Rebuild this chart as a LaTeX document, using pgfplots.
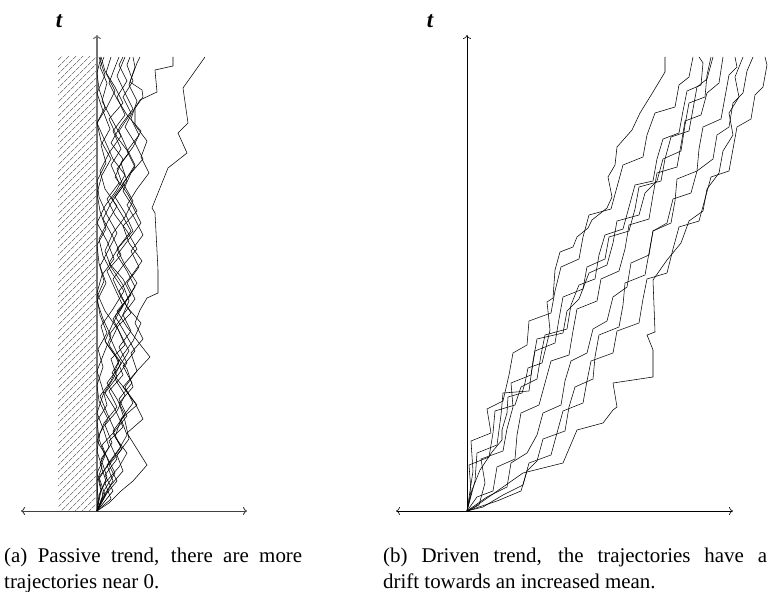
\documentclass[border=0pt]{standalone}
\usepackage{pgfplots}
\pgfplotsset{compat=1.18}
\usepackage{fontspec}
\setmainfont{Liberation Serif}
\usetikzlibrary{patterns.meta,arrows.meta}
\begin{document}
\begin{tikzpicture}
\path[use as bounding box] (0,0) rectangle (771bp,592bp);
\pgfplotsset{
  walkstyle/.style={black, line width=0.55pt, mark=none, line join=miter},
}
% ---------------- left panel: passive trend ----------------
\begin{axis}[
  at={(21bp,81bp)}, anchor=south west,
  x=1bp, y=1bp,
  xmin=-76, xmax=150, ymin=0, ymax=476,
  axis lines=middle, enlargelimits=false, clip=false,
  xtick=\empty, ytick=\empty,
  x axis line style={{To[length=4bp,width=8bp]}-{To[length=4bp,width=8bp]}, draw=black!75, line width=0.9pt},
  y axis line style={-{To[length=4bp,width=8bp]}, draw=black!55, line width=1.1pt},
]
\fill[pattern={Lines[angle=45,distance=5.2bp,line width=0.6bp]}, pattern color=black!50] (axis cs:-39,0) rectangle (axis cs:0,454);
\addplot[walkstyle] coordinates {(0,0)(6,15)(2,32)(12,48)(5,66)(18,80)(10,98)(3,115)(14,130)(22,150)(9,168)(4,185)(16,202)(27,220)(15,238)(6,255)(2,272)(11,290)(20,305)(8,322)(3,340)(12,358)(24,375)(14,393)(5,410)(10,428)(3,444)(7,454)};
\addplot[walkstyle] coordinates {(0,0)(10,18)(20,30)(12,46)(25,62)(16,78)(30,95)(22,112)(35,128)(26,145)(38,160)(28,178)(18,195)(30,212)(40,228)(28,246)(20,262)(34,280)(25,296)(15,312)(28,330)(38,346)(30,362)(22,380)(34,398)(26,414)(36,430)(30,446)(33,454)};
\addplot[walkstyle] coordinates {(0,0)(4,20)(0,38)(8,55)(2,72)(0,90)(10,106)(5,124)(0,140)(7,158)(14,175)(6,192)(0,210)(9,228)(3,245)(12,262)(20,278)(10,296)(2,314)(0,330)(9,348)(4,366)(13,382)(6,400)(0,418)(8,436)(2,454)};
\addplot[walkstyle] coordinates {(0,0)(14,12)(8,28)(22,44)(30,58)(18,74)(24,92)(40,106)(28,122)(15,138)(25,155)(36,170)(44,188)(30,204)(22,220)(35,236)(45,250)(32,268)(26,285)(40,300)(30,318)(18,334)(26,352)(14,368)(24,386)(36,402)(28,418)(20,435)(28,454)};
\addplot[walkstyle] coordinates {(0,0)(2,16)(9,30)(3,48)(12,64)(7,80)(0,98)(6,116)(16,132)(24,148)(12,166)(20,183)(8,200)(0,218)(5,236)(17,252)(10,270)(0,288)(8,305)(19,320)(28,336)(16,352)(8,370)(0,388)(10,404)(18,420)(9,438)(14,454)};
\addplot[walkstyle] coordinates {(0,0)(8,22)(18,38)(10,54)(0,70)(7,88)(20,104)(12,120)(26,136)(19,154)(8,170)(16,188)(26,205)(18,222)(10,240)(24,256)(16,274)(6,292)(14,308)(26,325)(20,342)(32,358)(20,374)(12,392)(26,408)(18,424)(8,440)(4,454)};
\addplot[walkstyle] coordinates {(0,0)(5,10)(14,26)(26,40)(20,56)(32,72)(28,90)(22,108)(36,124)(30,142)(20,158)(12,176)(24,192)(32,210)(26,226)(14,244)(8,260)(16,278)(28,294)(36,310)(26,328)(38,344)(30,360)(42,376)(34,392)(40,410)(32,426)(38,444)(36,454)};
\addplot[walkstyle] coordinates {(0,0)(12,8)(24,20)(36,30)(50,46)(40,62)(30,78)(46,92)(38,108)(26,124)(40,140)(53,154)(42,168)(30,184)(20,200)(34,216)(26,232)(12,248)(22,264)(36,280)(28,298)(18,314)(30,330)(24,348)(36,364)(44,380)(30,396)(20,412)(12,428)(18,444)(22,454)};
\addplot[walkstyle] coordinates {(0,0)(6,14)(16,30)(10,46)(22,62)(30,76)(24,92)(36,108)(28,124)(40,140)(34,158)(46,172)(38,188)(43,201)(50,213)(61,218)(61,241)(58,298)(55,303)(71,343)(90,358)(81,378)(91,388)(86,423)(108,454)};
\addplot[walkstyle] coordinates {(0,0)(3,18)(10,34)(4,52)(15,68)(8,86)(20,100)(28,116)(18,132)(30,148)(22,164)(34,180)(26,196)(38,212)(30,228)(42,244)(34,260)(46,276)(38,292)(30,306)(40,322)(52,338)(44,354)(50,370)(38,386)(38,403)(43,411)(60,419)(58,441)(76,445)(76,454)};
\addplot[walkstyle] coordinates {(0,0)(8,16)(2,34)(14,50)(24,64)(16,80)(28,96)(20,112)(10,128)(22,144)(32,160)(24,176)(16,192)(28,208)(38,224)(30,240)(20,256)(32,272)(44,288)(36,304)(26,320)(34,338)(46,352)(38,368)(28,384)(36,400)(46,414)(45,421)(33,429)(40,448)(43,454)};
\addplot[walkstyle] coordinates {(0,0)(1,12)(0,30)(5,44)(0,60)(3,78)(11,92)(2,110)(0,126)(6,144)(1,162)(10,178)(3,196)(0,214)(7,230)(2,248)(0,266)(9,282)(3,300)(0,318)(5,336)(14,352)(4,370)(0,388)(8,404)(2,422)(0,438)(4,454)};
\addplot[walkstyle] coordinates {(0,0)(16,20)(8,36)(20,52)(12,70)(26,84)(18,102)(8,118)(20,134)(14,152)(28,166)(20,184)(34,198)(24,214)(16,232)(28,248)(40,262)(30,280)(18,296)(10,312)(22,328)(14,346)(24,362)(16,380)(28,396)(20,414)(30,430)(22,446)(26,454)};
\end{axis}
% ---------------- right panel: driven trend ----------------
\begin{axis}[
  at={(396bp,81bp)}, anchor=south west,
  x=1bp, y=1bp,
  xmin=-71, xmax=266, ymin=0, ymax=476,
  axis lines=middle, enlargelimits=false, clip=false,
  xtick=\empty, ytick=\empty,
  x axis line style={{To[length=4bp,width=8bp]}-{To[length=4bp,width=8bp]}, draw=black, line width=0.6pt},
  y axis line style={-{To[length=4bp,width=8bp]}, draw=black, line width=0.6pt},
]
\addplot[walkstyle] coordinates {(0,0)(5,21)(13,41)(25,59)(35,71)(35,81)(40,98)(41,114)(55,118)(58,128)(61,143)(75,148)(80,168)(83,181)(80,209)(86,213)(88,241)(93,259)(106,264)(110,274)(121,283)(125,291)(140,303)(145,314)(141,334)(148,346)(150,364)(165,381)(173,398)(186,419)(198,439)(198,454)};
\addplot[walkstyle] coordinates {(0,0)(6,3)(56,38)(96,48)(110,81)(136,88)(146,101)(150,104)(146,128)(186,134)(186,161)(180,176)(188,179)(186,231)(200,251)(214,268)(222,290)(236,300)(240,322)(252,338)(256,360)(266,376)(262,398)(272,414)(268,434)(276,454)};
\addplot[walkstyle] coordinates {(0,0)(8,30)(10,58)(30,66)(34,96)(36,118)(62,120)(66,150)(70,172)(96,178)(100,200)(112,212)(122,238)(140,246)(146,268)(150,290)(172,296)(178,318)(190,330)(196,352)(214,360)(218,386)(222,408)(238,414)(240,436)(244,454)};
\addplot[walkstyle] coordinates {(0,0)(20,14)(40,24)(44,48)(60,58)(70,76)(76,98)(94,106)(98,130)(104,150)(120,158)(126,182)(140,190)(146,214)(160,224)(164,248)(182,256)(186,280)(200,288)(206,312)(224,318)(230,340)(246,352)(250,376)(262,384)(266,408)(276,418)(280,440)(286,454)};
\addplot[walkstyle] coordinates {(0,0)(4,20)(2,46)(22,54)(26,78)(28,100)(48,106)(54,124)(70,132)(74,156)(78,176)(100,182)(104,206)(112,226)(128,232)(132,256)(138,276)(156,282)(162,304)(168,326)(186,330)(190,352)(196,372)(212,378)(216,400)(220,420)(234,426)(236,448)(232,454)};
\addplot[walkstyle] coordinates {(0,0)(30,10)(54,20)(60,40)(70,50)(76,72)(98,80)(102,104)(108,124)(126,132)(128,154)(132,176)(152,184)(156,206)(158,228)(178,236)(182,258)(186,280)(204,288)(208,310)(210,332)(230,340)(232,362)(236,384)(254,392)(258,414)(262,436)(270,444)(268,454)};
\addplot[walkstyle] coordinates {(0,0)(12,6)(18,28)(14,52)(36,60)(40,82)(46,104)(44,128)(64,136)(68,160)(88,168)(92,192)(96,214)(116,222)(120,244)(138,252)(142,274)(162,280)(168,302)(172,324)(194,330)(198,352)(204,374)(222,380)(226,402)(230,424)(240,432)(246,454)};
\addplot[walkstyle] coordinates {(0,0)(6,40)(4,70)(24,78)(20,102)(36,110)(42,136)(46,158)(60,166)(62,190)(84,198)(88,220)(94,244)(112,252)(116,274)(122,296)(144,302)(150,324)(156,346)(176,354)(180,376)(188,398)(208,404)(212,426)(222,434)(226,454)};
\addplot[walkstyle] coordinates {(0,0)(16,4)(36,16)(56,26)(62,48)(84,56)(90,78)(96,100)(116,108)(120,130)(124,150)(146,158)(150,180)(172,188)(176,212)(180,232)(200,238)(206,262)(212,284)(232,290)(238,312)(244,334)(262,340)(266,362)(270,384)(284,392)(288,416)(296,424)(300,446)(298,454)};
\addplot[walkstyle] coordinates {(0,0)(10,14)(26,20)(30,44)(48,52)(50,76)(54,98)(72,106)(78,128)(84,150)(102,156)(106,180)(110,202)(130,210)(134,232)(152,240)(158,262)(162,286)(182,292)(186,316)(190,338)(210,344)(214,366)(218,390)(234,396)(240,418)(252,428)(256,454)};
\end{axis}
% ---------------- labels and captions ----------------
\node at (59bp,571bp) {\fontsize{23}{23}\selectfont\bfseries\itshape t};
\node at (430bp,571bp) {\fontsize{23}{23}\selectfont\bfseries\itshape t};
\node[anchor=base west, inner sep=0pt] at (4bp,30bp) {\fontsize{21}{25}\selectfont\makebox[298bp][s]{(a) Passive trend, there are more}};
\node[anchor=base west, inner sep=0pt] at (4bp,4bp) {\fontsize{21}{25}\selectfont trajectories near 0.};
\node[anchor=base west, inner sep=0pt] at (383bp,30bp) {\fontsize{21}{25}\selectfont\makebox[384bp][s]{(b) Driven trend, the trajectories have a}};
\node[anchor=base west, inner sep=0pt] at (383bp,4bp) {\fontsize{21}{25}\selectfont drift towards an increased mean.};
\end{tikzpicture}
\end{document}
